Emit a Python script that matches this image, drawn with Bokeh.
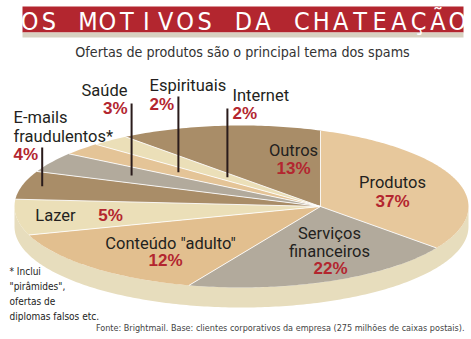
import numpy as np
from bokeh.plotting import figure
from bokeh.models import Range1d
from bokeh.core.properties import value
from bokeh.embed import file_html
from bokeh.resources import INLINE

# ---------------- data ----------------
categories = ["Produtos", "Serviços financeiros", "Conteúdo \"adulto\"", "Lazer",
              "E-mails fraudulentos*", "Saúde", "Espirituais", "Internet", "Outros"]
shares = [37, 22, 12, 5, 4, 3, 2, 2, 13]
pct_labels = ["37%", "22%", "12%", "5%", "4%", "3%", "2%", "2%", "13%"]
name_lines = [["Produtos"], ["Serviços", "financeiros"], ["Conteúdo \"adulto\""], ["Lazer"],
              ["E-mails", "fraudulentos*"], ["Saúde"], ["Espirituais"], ["Internet"], ["Outros"]]

title_text = "OS MOTIVOS DA CHATEAÇÃO"
subtitle_text = "Ofertas de produtos são o principal tema dos spams"
footnote_lines = ["* Inclui", "\"pirâmides\",", "ofertas de", "diplomas falsos etc."]
source_text = "Fonte: Brightmail. Base: clientes corporativos da empresa (275 milhões de caixas postais)."

# ---------------- styles / layout ----------------
slice_colors = ["#e7c89c", "#b2aa9c", "#e2bf8f", "#ebdfb8", "#a98d68",
                "#b2aa9c", "#e4c497", "#ebdfb8", "#a98d68"]
side_color = "#e7ddbd"
RED = "#b3262f"
TXT = "#231f20"
COND = "DejaVu Sans Condensed"
LAB = "Roboto"
BOLD = "Liberation Sans"

# label layout: (name x, name first-line y, line step, align, pct x, pct y, pct align)
label_layout = {
    "Produtos": (392, 182, 18, "center", 392, 201, "center"),
    "Serviços financeiros": (329, 233, 18, "center", 330, 268, "center"),
    "Conteúdo \"adulto\"": (170, 243, 18, "center", 165, 260, "center"),
    "Lazer": (55, 215, 18, "center", 110, 215, "center"),
    "E-mails fraudulentos*": (13, 117, 19, "left", 13, 154, "left"),
    "Saúde": (127, 90, 18, "right", 127, 108, "right"),
    "Espirituais": (149, 85, 18, "left", 149, 104, "left"),
    "Internet": (232, 95, 18, "left", 232, 113, "left"),
    "Outros": (293, 150, 18, "center", 293, 168, "center"),
}
# leader lines: category -> (top y, radial fraction of anchor inside slice)
leaders = {
    "E-mails fraudulentos*": (147, 0.956),
    "Saúde": (103, 0.776),
    "Espirituais": (96, 0.676),
    "Internet": (108, 0.521),
}

# pie projection parameters (perspective view of a circular pie)
CX, CY, RX, RY = 241.0, 206.0, 227.0, 81.0
BETA = 0.348
GAM = 1.0 / np.sqrt(1 - BETA ** 2)
DEPTH = 20.0


def project(frac, r=1.0):
    ang = 2 * np.pi * np.asarray(frac)
    u = r * np.sin(ang)
    v = -r * np.cos(ang)
    den = 1 + BETA * u
    up = (u + BETA) / den
    vp = v / (GAM * den)
    return CX + RX * up, CY + RY * vp


W, H = 471, 339
p = figure(width=W, height=H, x_range=Range1d(0, W), y_range=Range1d(H, 0),
           output_backend="svg", toolbar_location=None, min_border=0,
           x_axis_location=None, y_axis_location=None)
p.grid.visible = False
p.outline_line_color = None
p.background_fill_color = "white"
p.border_fill_color = "white"

# title bar
p.quad(left=[22], right=[463], top=[6], bottom=[32], fill_color=RED, line_color=None)
p.quad(left=[22], right=[463], top=[32], bottom=[37], fill_color="#d8d1c1", line_color=None)
tx, tt = [], []
for i, ch in enumerate(title_text):
    if ch != " ":
        tx.append(29 + 19.45 * i)
        tt.append(ch)
p.text(x=tx, y=[20.5] * len(tx), text=tt, text_color="white", text_align="center",
       text_baseline="middle", text_font=value(COND), text_font_size="25px")
p.text(x=[242], y=[51], text=[subtitle_text], text_color="#333333", text_align="center",
       text_baseline="middle", text_font=value(COND), text_font_size="14.2px")

# side of the pie (front half of rim, extruded)
t = np.linspace(0, np.pi, 200)
sx = CX + RX * np.cos(t)
sy = CY + RY * np.sin(t)
p.patch(np.concatenate([sx, sx[::-1]]), np.concatenate([sy, sy[::-1] + DEPTH]),
        fill_color=side_color, line_color=None)

# top slices
total = float(sum(shares))
cum = np.concatenate([[0], np.cumsum(shares)]) / total
ax0, ay0 = project(0.0, 0.0)
xs, ys = [], []
for i in range(len(shares)):
    n = max(3, int(shares[i] * 4))
    fr = np.linspace(cum[i], cum[i + 1], n)
    rx_, ry_ = project(fr)
    xs.append(np.concatenate([[ax0], rx_]).tolist())
    ys.append(np.concatenate([[ay0], ry_]).tolist())
p.patches(xs, ys, fill_color=slice_colors, line_color=None)

# separators
bx, by = project(cum[:-1])
p.segment(x0=[ax0] * len(bx), y0=[ay0] * len(by), x1=bx, y1=by,
          line_color="white", line_width=1.0, line_alpha=0.85)

# leader lines
for cat, (ytop, rr) in leaders.items():
    i = categories.index(cat)
    mid = (cum[i] + cum[i + 1]) / 2
    lx, ly = project(mid, rr)
    p.segment(x0=[lx], y0=[ytop], x1=[lx], y1=[ly], line_color="#2a1b1b", line_width=2)

# labels
for i, cat in enumerate(categories):
    nx, ny, step, al, px_, py_, pal = label_layout[cat]
    for k, line in enumerate(name_lines[i]):
        p.text(x=[nx], y=[ny + k * step], text=[line], text_color=TXT, text_align=al,
               text_baseline="middle", text_font=value(LAB), text_font_size="16.5px")
    p.text(x=[px_], y=[py_], text=[pct_labels[i]], text_color=RED, text_align=pal,
           text_baseline="middle", text_font=value(BOLD), text_font_style="bold",
           text_font_size="17px")

# footnote and source
p.text(x=[9] * len(footnote_lines), y=[271 + 15 * k for k in range(len(footnote_lines))],
       text=footnote_lines, text_color="#222222", text_align="left", text_baseline="middle",
       text_font=value(COND), text_font_size="10px")
p.text(x=[464], y=[327], text=[source_text], text_color="#444444", text_align="right",
       text_baseline="middle", text_font=value(COND), text_font_size="9px")

open("out.html", "w").write(file_html(p, INLINE))
